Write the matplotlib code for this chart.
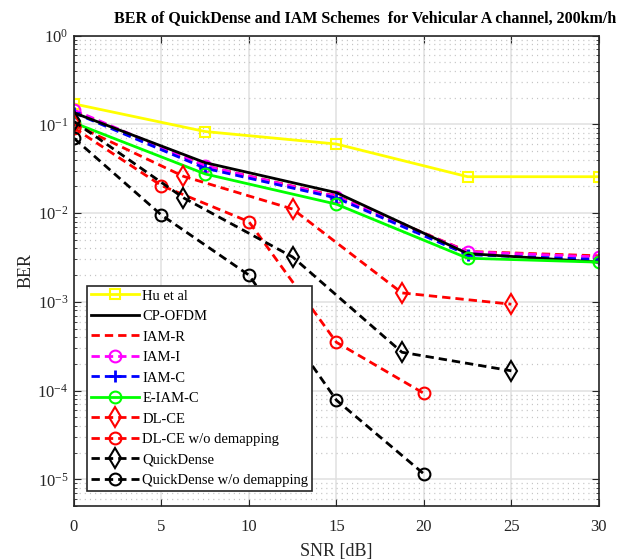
import numpy as np
import matplotlib
matplotlib.use("Agg")
import matplotlib.pyplot as plt
from matplotlib.ticker import LogLocator, MultipleLocator, FixedLocator, NullFormatter, NullLocator

# -------------------------------------------------------------------
# DATA
# -------------------------------------------------------------------

snr_a = [0, 7.5, 15, 22.5, 30]      # Hu et al / OFDM / IAM family
snr_b = [0, 6.25, 12.5, 18.75, 25]  # DL-CE, QuickDense
snr_c = [0, 5, 10, 15, 20]          # "w/o demapping" variants

ber_hu = [0.17, 0.083, 0.060, 0.0257, 0.0257]
ber_cp_ofdm = [0.135, 0.037, 0.017, 0.0035, 0.0028]
ber_iam_r = [0.14, 0.034, 0.0155, 0.0037, 0.0033]
ber_iam_i = [0.145, 0.034, 0.0153, 0.00367, 0.0032]
ber_iam_c = [0.135, 0.032, 0.0148, 0.0034, 0.0030]
ber_e_iam_c = [0.104, 0.0276, 0.0126, 0.0031, 0.0028]
ber_dlce = [0.10, 0.026, 0.0111, 0.00126, 0.00094]
ber_dlce_nodemap = [0.091, 0.0204, 0.0080, 0.00035, 9.3e-5]
ber_qd = [0.108, 0.0149, 0.0032, 0.00027, 0.000167]
ber_qd_nodemap = [0.0697, 0.0095, 0.0020, 7.8e-5, 1.15e-5]

# -------------------------------------------------------------------
# STYLE
# -------------------------------------------------------------------

plt.rcParams["font.family"] = ["Liberation Serif", "DejaVu Serif"]
plt.rcParams["mathtext.fontset"] = "custom"
plt.rcParams["mathtext.rm"] = "Liberation Serif"
plt.rcParams["mathtext.it"] = "Liberation Serif:italic"
plt.rcParams["lines.scale_dashes"] = False

dash = (6, 3.6)

fig = plt.figure(figsize=(6.35, 5.6), dpi=100)
ax = fig.add_axes([0.1165, 0.0964, 0.8265, 0.84])

ax.plot(snr_a, ber_hu, color=(1, 1, 0), lw=2, marker="s", ms=7,
        mfc="none", mew=1.5, label="Hu et al")
ax.plot(snr_a, ber_iam_r, color="red", lw=2, dashes=dash, label="IAM-R")
ax.plot(snr_a, ber_iam_i, color="magenta", lw=2, dashes=dash, marker="o",
        ms=8.5, mfc="none", mew=1.5, label="IAM-I")
ax.plot(snr_a, ber_iam_c, color="blue", lw=2, dashes=dash, marker="+",
        ms=9, mew=2, label="IAM-C")
ax.plot(snr_a, ber_cp_ofdm, color="black", lw=2, label="CP-OFDM")
ax.plot(snr_a, ber_e_iam_c, color=(0, 1, 0), lw=2, marker="o", ms=8.5,
        mfc="none", mew=1.5, label="E-IAM-C")
ax.plot(snr_b, ber_dlce, color="red", lw=2, dashes=dash, marker="d", ms=10,
        mfc="none", mew=1.5, label="DL-CE")
ax.plot(snr_c, ber_dlce_nodemap, color="red", lw=2, dashes=dash, marker="o",
        ms=8.5, mfc="none", mew=1.5, label="DL-CE w/o demapping")
ax.plot(snr_b, ber_qd, color="black", lw=2, dashes=dash, marker="d", ms=10,
        mfc="none", mew=1.5, label="QuickDense")
ax.plot(snr_c, ber_qd_nodemap, color="black", lw=2, dashes=dash, marker="o",
        ms=8.5, mfc="none", mew=1.5, label="QuickDense w/o demapping")

ax.set_yscale("log")
ax.set_xlim(0, 30)
ax.set_ylim(5e-6, 1)

ax.xaxis.set_major_locator(MultipleLocator(5))
ax.xaxis.set_minor_locator(NullLocator())
ax.yaxis.set_major_locator(FixedLocator([1e-5, 1e-4, 1e-3, 1e-2, 1e-1, 1]))
ax.yaxis.set_minor_locator(LogLocator(base=10, subs=np.arange(2, 10)))
ax.yaxis.set_minor_formatter(NullFormatter())
ax.set_yticklabels([r"$\mathregular{10^{-5}}$", r"$\mathregular{10^{-4}}$",
                    r"$\mathregular{10^{-3}}$", r"$\mathregular{10^{-2}}$",
                    r"$\mathregular{10^{-1}}$", r"$\mathregular{10^{0}}$"])

ax.tick_params(which="both", direction="in", top=True, right=True,
               labelsize=12, colors="#262626")
ax.tick_params(which="major", length=5, pad=9)
ax.tick_params(which="minor", length=2.5)
ax.tick_params(axis="y", pad=4)

ax.grid(True, which="major", color="#e0e0e0", lw=1.1)
ax.grid(True, which="minor", axis="y", color="#c4c4c4", lw=0.9,
        linestyle=(0, (0.8, 2.9)))
ax.set_axisbelow(True)
for s in ax.spines.values():
    s.set_color("#262626")
    s.set_linewidth(1.2)

ax.set_xlabel("SNR [dB]", fontsize=13, color="#262626", labelpad=6)
ax.set_ylabel("BER", fontsize=13, color="#262626", labelpad=2)

fig.text(0.575, 0.967, "BER of QuickDense and IAM Schemes  for Vehicular A channel, 200km/h",
         ha="center", va="center", fontsize=11.5, fontweight="bold")

# legend order as in the figure
handles, labels = ax.get_legend_handles_labels()
order = ["Hu et al", "CP-OFDM", "IAM-R", "IAM-I", "IAM-C", "E-IAM-C",
         "DL-CE", "DL-CE w/o demapping", "QuickDense", "QuickDense w/o demapping"]
hmap = dict(zip(labels, handles))
leg = ax.legend([hmap[k] for k in order], order, loc="lower left",
                bbox_to_anchor=(0.0248, 0.0325), borderaxespad=0,
                fontsize=10.5, handlelength=3.3, handletextpad=0.25,
                labelspacing=0.5, borderpad=0.25, fancybox=False,
                edgecolor="#262626", framealpha=1)
leg.get_frame().set_linewidth(1.2)

fig.savefig("out.png", dpi=100)
